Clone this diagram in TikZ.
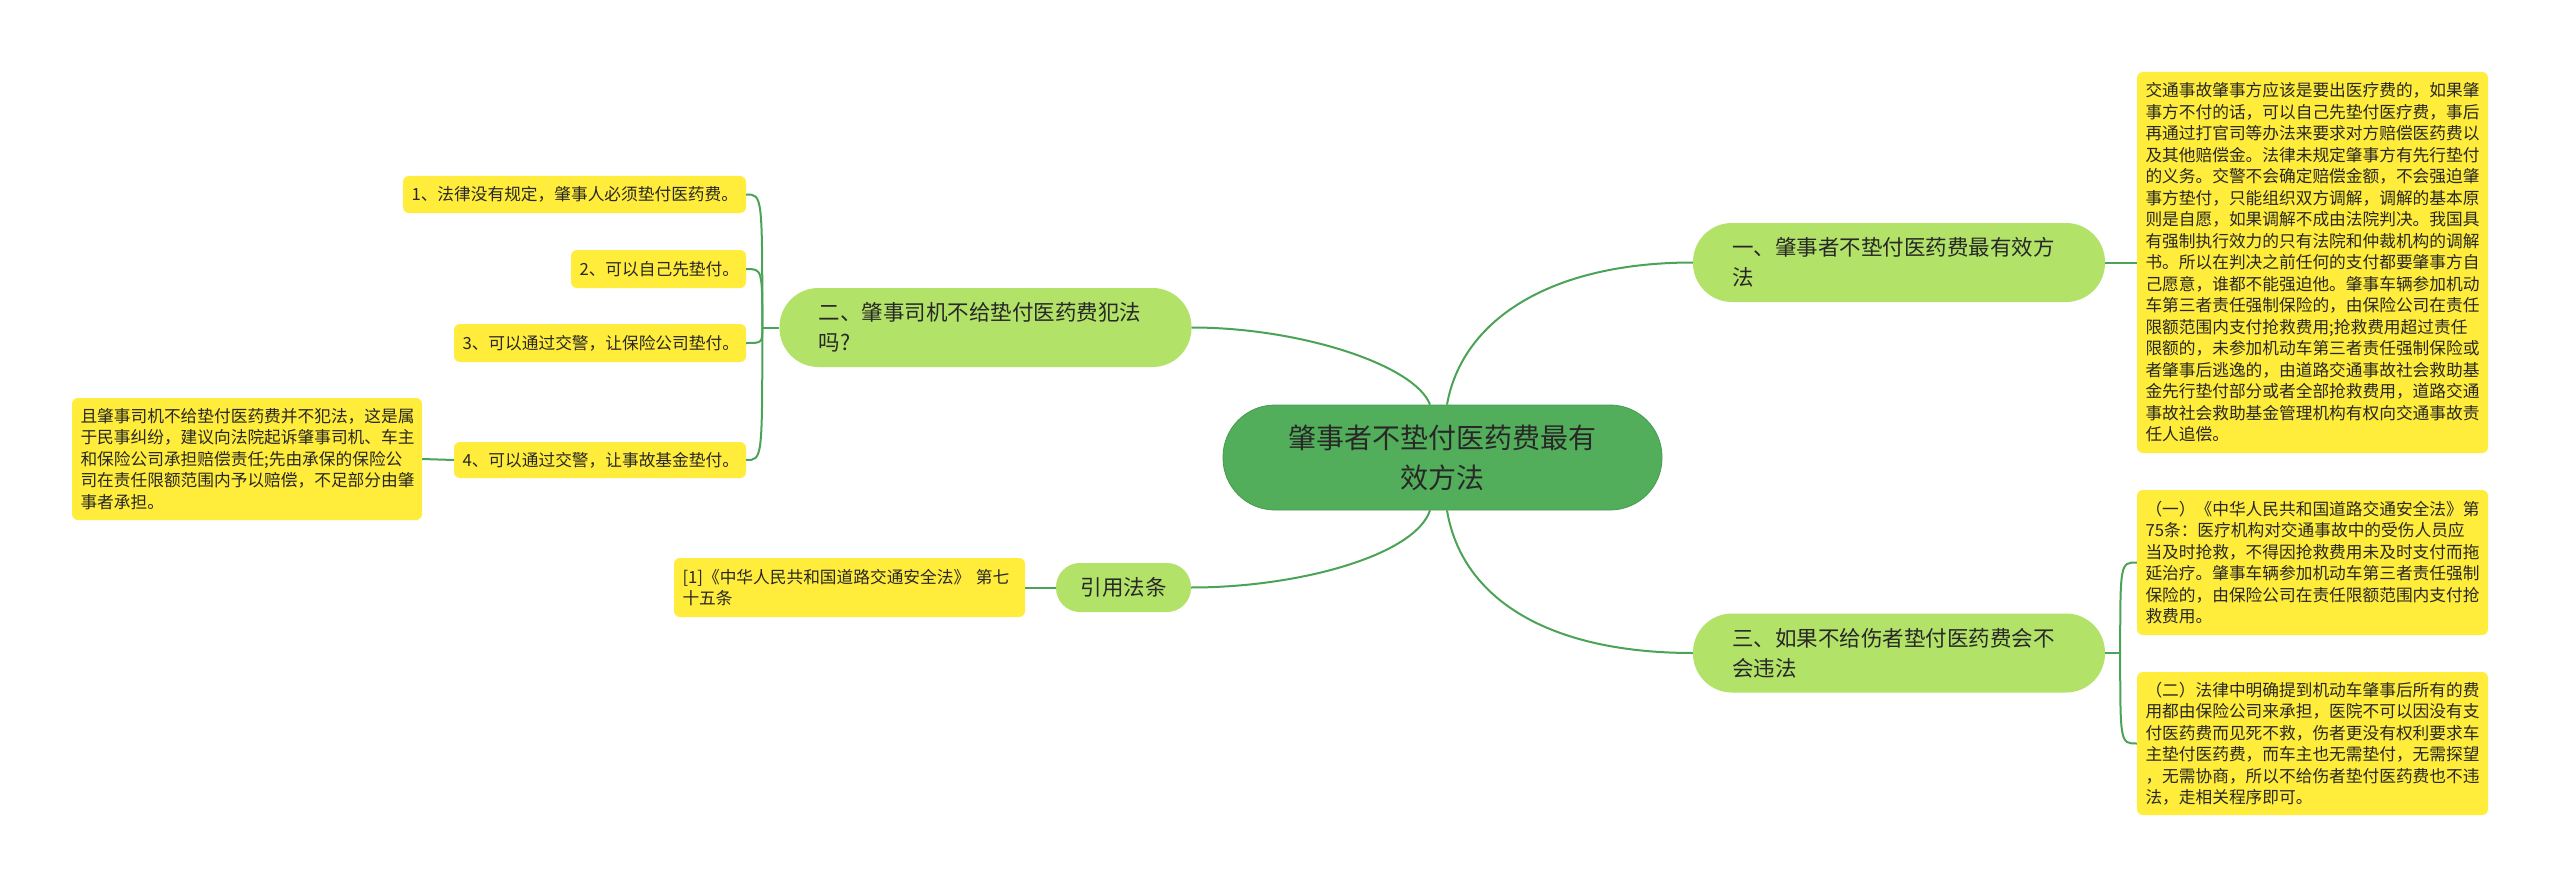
\documentclass[tikz,border=0pt]{standalone}
\usepackage{fontspec}
\setmainfont{Noto Sans CJK SC}
\definecolor{rootg}{RGB}{82,174,90}
\definecolor{rootdraw}{RGB}{70,155,80}
\definecolor{branchg}{RGB}{178,226,103}
\definecolor{leafy}{RGB}{255,236,59}
\definecolor{connc}{RGB}{74,163,86}
\definecolor{txt}{RGB}{40,40,40}
\begin{document}
\begin{tikzpicture}[x=1pt,y=-1pt,
  rootbox/.style={fill=rootg,draw=rootdraw,line width=0.8pt,rounded corners=52pt,
    minimum width=439pt,minimum height=105pt,inner sep=0pt,align=center,
    text=txt,font=\fontsize{28}{40}\selectfont},
  branchbox/.style={fill=branchg,rounded corners=39pt,minimum height=79pt,
    inner xsep=39pt,inner ysep=0pt,text width=334pt,align=left,
    text=txt,font=\fontsize{21.5}{30}\selectfont},
  refbranch/.style={fill=branchg,rounded corners=24pt,minimum height=49pt,minimum width=135pt,
    inner sep=0pt,align=center,text=txt,font=\fontsize{21.5}{30}\selectfont},
  leafbox/.style={fill=leafy,rounded corners=6pt,inner xsep=8.5pt,inner ysep=0pt,
    align=left,text=txt,font=\fontsize{16.7}{21.5}\selectfont},
  conn/.style={draw=connc,line width=2pt}
]
\fill[white] (0,0) rectangle (2560,888);
\useasboundingbox (0,0) rectangle (2560,888);

% root
\node[rootbox] (root) at (1442.5,457.5) {肇事者不垫付医药费最有\\效方法};

% branches
\node[branchbox] (b1) at (1899,262.5) {一、肇事者不垫付医药费最有效方\\法};
\node[branchbox] (b3) at (1899,653) {三、如果不给伤者垫付医药费会不\\会违法};
\node[branchbox] (b2) at (985.5,327.5) {二、肇事司机不给垫付医药费犯法\\吗?};
\node[refbranch] (b4) at (1123.5,587.5) {引用法条};

% right leaves
\node[leafbox,text width=334pt,minimum height=381pt] (l1) at (2312.5,262.5) {交通事故肇事方应该是要出医疗费的，如果肇\\事方不付的话，可以自己先垫付医疗费，事后\\再通过打官司等办法来要求对方赔偿医药费以\\及其他赔偿金。法律未规定肇事方有先行垫付\\的义务。交警不会确定赔偿金额，不会强迫肇\\事方垫付，只能组织双方调解，调解的基本原\\则是自愿，如果调解不成由法院判决。我国具\\有强制执行效力的只有法院和仲裁机构的调解\\书。所以在判决之前任何的支付都要肇事方自\\己愿意，谁都不能强迫他。肇事车辆参加机动\\车第三者责任强制保险的，由保险公司在责任\\限额范围内支付抢救费用;抢救费用超过责任\\限额的，未参加机动车第三者责任强制保险或\\者肇事后逃逸的，由道路交通事故社会救助基\\金先行垫付部分或者全部抢救费用，道路交通\\事故社会救助基金管理机构有权向交通事故责\\任人追偿。};
\node[leafbox,text width=334pt,minimum height=145pt] (la) at (2312.5,562.5) {（一）《中华人民共和国道路交通安全法》第\\75条：医疗机构对交通事故中的受伤人员应\\当及时抢救，不得因抢救费用未及时支付而拖\\延治疗。肇事车辆参加机动车第三者责任强制\\保险的，由保险公司在责任限额范围内支付抢\\救费用。};
\node[leafbox,text width=334pt,minimum height=143pt] (lb) at (2312.5,743.5) {（二）法律中明确提到机动车肇事后所有的费\\用都由保险公司来承担，医院不可以因没有支\\付医药费而见死不救，伤者更没有权利要求车\\主垫付医药费，而车主也无需垫付，无需探望\\，无需协商，所以不给伤者垫付医药费也不违\\法，走相关程序即可。};

% left leaves
\node[leafbox,text width=326pt,minimum height=37pt] (s1) at (574.5,194.5) {1、法律没有规定，肇事人必须垫付医药费。};
\node[leafbox,text width=158pt,minimum height=38pt] (s2) at (658.5,269) {2、可以自己先垫付。};
\node[leafbox,text width=275pt,minimum height=38pt] (s3) at (600,343) {3、可以通过交警，让保险公司垫付。};
\node[leafbox,text width=275pt,minimum height=36pt] (s4) at (600,460) {4、可以通过交警，让事故基金垫付。};
\node[leafbox,text width=333pt,minimum height=122pt] (s4d) at (247,459) {且肇事司机不给垫付医药费并不犯法，这是属\\于民事纠纷，建议向法院起诉肇事司机、车主\\和保险公司承担赔偿责任;先由承保的保险公\\司在责任限额范围内予以赔偿，不足部分由肇\\事者承担。};
\node[leafbox,text width=334pt,minimum height=59pt] (rf) at (849.5,587.5) {[1]《中华人民共和国道路交通安全法》 第七\\十五条};

% root connectors
\draw[conn] ([xshift=4.5pt]root.north) .. controls (1462,320) and (1550,262.5) .. (b1.west);
\draw[conn] ([xshift=-12.5pt]root.north) .. controls (1415,365) and (1300,327.5) .. (b2.east);
\draw[conn] ([xshift=-12.5pt]root.south) .. controls (1415,555) and (1300,587.5) .. (b4.east);
\draw[conn] ([xshift=4.5pt]root.south) .. controls (1462,600) and (1550,653) .. (b3.west);

% branch 1
\draw[conn] (b1.east) -- (l1.west);

% branch 3
\coordinate (j3) at ([xshift=15pt]b3.east);
\draw[conn] (b3.east) -- (j3);
\draw[conn] (j3) .. controls (j3 |- la.west) and (j3 |- la.west) .. (la.west);
\draw[conn] (j3) .. controls (j3 |- lb.west) and (j3 |- lb.west) .. (lb.west);

% branch 2
\coordinate (j2) at ([xshift=-17pt]b2.west);
\draw[conn] (b2.west) -- (j2);
\draw[conn] (j2) .. controls (j2 |- s1.east) and (j2 |- s1.east) .. (s1.east);
\draw[conn] (j2) .. controls (j2 |- s2.east) and (j2 |- s2.east) .. (s2.east);
\draw[conn] (j2) .. controls (j2 |- s3.east) and (j2 |- s3.east) .. (s3.east);
\draw[conn] (j2) .. controls (j2 |- s4.east) and (j2 |- s4.east) .. (s4.east);
\draw[conn] (s4.west) -- (s4d.east);

% reference
\draw[conn] (b4.west) -- (rf.east);
\end{tikzpicture}
\end{document}
